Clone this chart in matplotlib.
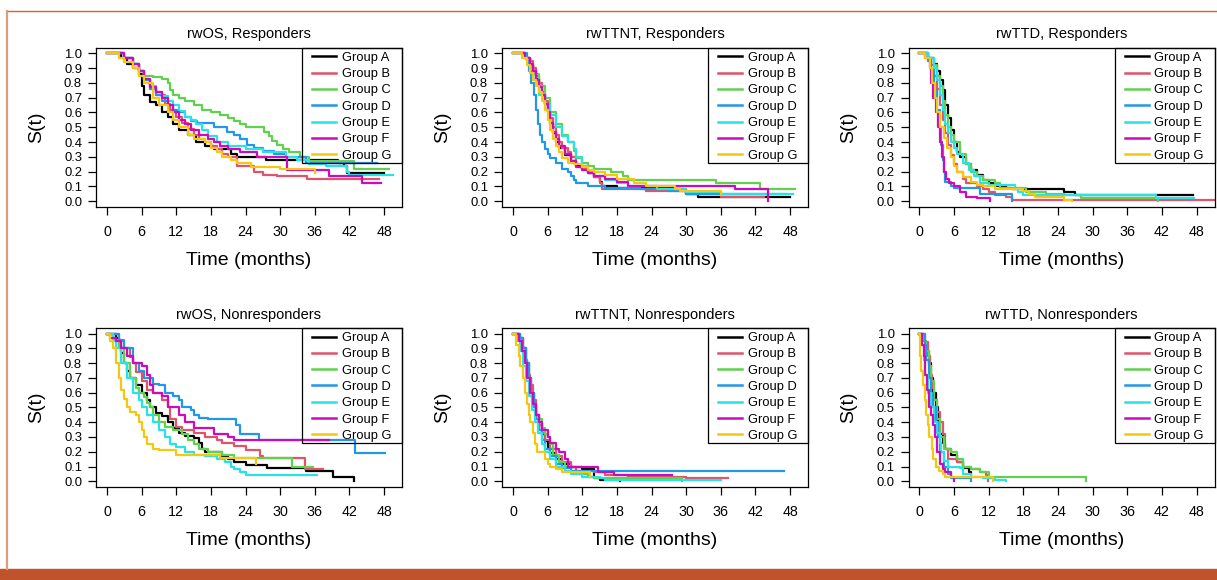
import matplotlib
matplotlib.use("Agg")
import matplotlib.pyplot as plt
from matplotlib.lines import Line2D

groups = ["Group A", "Group B", "Group C", "Group D", "Group E", "Group F", "Group G"]
colors = ["#000000", "#DF536B", "#61D04F", "#2297E6", "#28E2E5", "#CD0BBC", "#F5C710"]
x_ticks = [0, 6, 12, 18, 24, 30, 36, 42, 48]
y_ticks = [0.0, 0.1, 0.2, 0.3, 0.4, 0.5, 0.6, 0.7, 0.8, 0.9, 1.0]

# Kaplan-Meier steps per group: (time in months, S(t) from that time on)
os_resp = {
    "Group A": [(0, 1), (2.5, .97), (3.5, .93), (4.5, .9), (5.5, .86), (6, .78), (6.5, .72), (7.5, .67), (8.5, .65),
                (9.5, .6), (10.5, .57), (11.5, .52), (12.5, .48), (14, .45), (15.5, .4), (17, .37), (18.5, .35),
                (21.4, .32), (22.6, .3), (27.5, .28), (40, .26), (41, .24), (41.5, .19), (48, .19)],
    "Group B": [(0, 1), (3, .97), (4.5, .93), (5.5, .88), (6.5, .82), (7.5, .76), (8.5, .72), (10, .66), (11, .62),
                (12, .57), (13, .53), (14, .49), (15, .45), (16, .42), (17, .4), (18, .37), (19, .35), (20, .32),
                (21, .3), (22.6, .24), (25.5, .2), (27, .18), (29.5, .17), (34.7, .15), (47.1, .15)],
    "Group C": [(0, 1), (3, .97), (4.5, .93), (5.5, .88), (6.5, .85), (8, .84), (9.5, .83), (10.5, .8), (11, .75),
                (11.5, .72), (12.5, .7), (13.5, .68), (15, .65), (16.5, .62), (18, .6), (19.5, .58), (21, .56),
                (22, .54), (23, .52), (24, .5), (27.2, .47), (28, .44), (28.5, .41), (29.5, .38), (30.5, .35),
                (31.5, .33), (33.5, .3), (35, .27), (42.8, .22), (48.9, .22)],
    "Group D": [(0, 1), (3, .97), (4.5, .93), (5.5, .88), (6.5, .82), (7.5, .76), (8.5, .72), (9.5, .68), (10.5, .65),
                (11.5, .62), (12.5, .6), (13.5, .57), (14.5, .54), (15.6, .53), (18.5, .5), (20.8, .47), (22, .45),
                (23, .42), (24.3, .38), (25.5, .36), (27, .34), (29, .32), (31, .3), (34.4, .26), (46.8, .26)],
    "Group E": [(0, 1), (3, .97), (4.5, .93), (5.5, .88), (6.5, .83), (7.5, .78), (8.5, .74), (9.5, .71), (10.5, .68),
                (11.5, .65), (12.5, .61), (13.5, .57), (14.5, .55), (15.5, .52), (16.5, .48), (17.5, .44), (19, .4),
                (21, .37), (24, .35), (27, .33), (31, .3), (33, .28), (35, .25), (38, .24), (41.5, .2), (42, .18),
                (49.5, .18)],
    "Group F": [(0, 1), (3, .97), (4.5, .93), (5.5, .88), (6.5, .83), (7.5, .77), (8.5, .74), (9.5, .7), (10.5, .65),
                (11.5, .6), (12.5, .55), (13.5, .52), (14.5, .48), (16, .45), (17.5, .42), (18.5, .4), (19.5, .37),
                (21, .35), (23, .33), (26, .3), (31.2, .21), (38.5, .17), (44.2, .12), (47.5, .12)],
    "Group G": [(0, 1), (2, .97), (3, .94), (4.5, .9), (5.5, .85), (6.5, .8), (8, .7), (9, .65), (10.5, .6),
                (11.5, .55), (12.5, .5), (14, .45), (15, .42), (17, .4), (18, .36), (19, .33), (20, .3), (21.5, .28),
                (22.5, .26), (25, .23), (30, .22), (36, .19)],
}

ttnt_resp = {
    "Group A": [(0, 1), (2, .97), (3, .92), (3.5, .88), (4, .83), (4.5, .78), (5, .72), (5.5, .66), (6, .6), (6.5, .53),
                (7, .46), (7.5, .4), (8, .36), (9, .31), (10, .27), (11, .24), (12, .22), (13, .19), (14, .16),
                (15, .13), (15.5, .1), (18, .09), (28, .08), (30, .05), (32, .03), (48, .03)],
    "Group B": [(0, 1), (2, .97), (3, .95), (3.5, .9), (4, .85), (4.5, .8), (5, .74), (5.5, .68), (6, .62), (6.5, .56),
                (7, .5), (7.5, .45), (8, .4), (8.5, .36), (9.5, .33), (10, .3), (11, .25), (12, .22), (13, .19),
                (14, .16), (15, .12), (15.5, .08), (23, .07), (30, .05), (36, .03), (43.5, .03)],
    "Group C": [(0, 1), (2, .97), (3, .92), (3.5, .86), (4.5, .78), (5.5, .7), (6.5, .6), (7.5, .52), (8.5, .45),
                (9.5, .4), (10.5, .34), (11, .29), (12, .26), (13, .24), (14, .22), (17, .2), (19, .17), (20, .14),
                (35.2, .12), (42.7, .08), (48.9, .08)],
    "Group D": [(0, 1), (2.5, .95), (2.8, .88), (3.2, .8), (3.6, .72), (4, .62), (4.3, .52), (4.6, .45), (5, .4),
                (5.5, .35), (6, .32), (6.5, .29), (7.5, .26), (8.5, .22), (9.5, .2), (10, .17), (10.5, .14), (11, .12),
                (13, .1), (16, .09), (22, .08), (27, .07), (30, .05), (47.3, .05)],
    "Group E": [(0, 1), (2, .97), (3, .9), (3.5, .82), (4.5, .72), (5.5, .65), (6.5, .58), (7.5, .5), (8.5, .44),
                (9.5, .4), (10.5, .35), (11, .3), (12, .24), (13, .2), (14, .17), (16, .14), (18, .12), (20, .1),
                (25, .08), (30, .06), (36, .05), (48.5, .05)],
    "Group F": [(0, 1), (2, .97), (3, .93), (3.5, .88), (4, .82), (4.5, .77), (5, .72), (5.5, .66), (6, .6), (6.5, .53),
                (7, .47), (7.5, .42), (8, .37), (9, .32), (10, .27), (11, .23), (12, .21), (13, .19), (14, .17),
                (16, .15), (18, .13), (20, .1), (38.4, .08), (44.1, 0)],
    "Group G": [(0, 1), (1.5, .97), (2.5, .92), (3, .87), (3.5, .82), (4, .78), (4.5, .74), (5, .68), (5.5, .62),
                (6, .55), (6.5, .48), (7, .42), (7.5, .37), (8, .33), (8.5, .29), (9.5, .26), (10.5, .25), (12, .23),
                (13, .21), (14, .2), (16, .18), (18, .15), (21, .12), (23, .1), (28, .08), (29, .07), (36, .04)],
}

ttd_resp = {
    "Group A": [(0, 1), (1.5, .97), (2.5, .93), (3, .88), (3.5, .82), (4, .75), (4.5, .65), (5, .56), (5.5, .48),
                (6, .4), (6.5, .33), (7, .3), (8, .25), (9, .21), (10, .18), (11, .14), (12, .12), (13, .1), (15, .09),
                (16, .08), (25, .06), (27, .04), (47.3, .04)],
    "Group B": [(0, 1), (1.5, .97), (2, .92), (2.5, .85), (3, .76), (3.5, .65), (4, .55), (4.5, .46), (5, .38),
                (5.5, .31), (6, .25), (6.5, .2), (7.5, .15), (8, .12), (10, .1), (11, .08), (12, .06), (13, .04),
                (15, .03), (16, .01), (51.5, .01)],
    "Group C": [(0, 1), (1.5, .97), (2.5, .92), (3, .85), (3.5, .78), (4, .68), (4.5, .58), (5, .5), (5.5, .45),
                (6, .4), (7, .32), (8, .25), (9, .2), (10, .17), (11, .14), (13, .12), (14, .09), (18.5, .06), (22, .05),
                (25, .04), (28, .02), (41.4, 0)],
    "Group D": [(0, 1), (1.5, .95), (2, .88), (2.5, .75), (3, .62), (3.5, .5), (3.8, .38), (4, .28), (4.3, .2),
                (4.5, .13), (5.5, .1), (6, .09), (10.5, .05), (16.1, 0)],
    "Group E": [(0, 1), (1.5, .97), (2.5, .9), (3, .82), (3.5, .72), (4, .62), (4.5, .52), (5, .46), (5.5, .4),
                (6, .36), (6.5, .32), (7.5, .26), (8.5, .21), (9.5, .17), (10.5, .12), (12, .11), (16.5, .08),
                (17, .06), (18, .04), (41, .02), (47.5, .02)],
    "Group F": [(0, 1), (1, .97), (1.8, .9), (2, .8), (2.3, .7), (2.8, .6), (3.2, .5), (3.6, .4), (3.9, .3),
                (4.2, .2), (4.6, .15), (5.2, .12), (6, .1), (7, .06), (8, .03), (10, .02), (12.2, 0)],
    "Group G": [(0, 1), (1, .97), (1.8, .9), (2.2, .8), (2.7, .7), (3.1, .6), (3.6, .5), (4.2, .43), (4.8, .36),
                (5.4, .3), (6, .24), (6.5, .2), (7.5, .16), (9, .13), (10, .11), (11, .1), (13, .08), (18, .07),
                (19, .05), (20, .03), (25, .01), (26.5, 0)],
}

os_nonresp = {
    "Group A": [(0, 1), (1.5, .97), (2, .92), (2.5, .87), (3, .8), (3.5, .75), (4, .7), (5, .65), (6, .6), (7, .55),
                (7.5, .5), (8.5, .46), (9.5, .44), (10.5, .4), (11.5, .36), (12.5, .33), (13.5, .31), (15, .29),
                (16, .26), (16.5, .22), (17, .2), (20, .17), (21, .15), (22, .13), (24, .11), (27.8, .09), (34.5, .07),
                (39.2, .03), (42.7, 0)],
    "Group B": [(0, 1), (2, .96), (3, .9), (4, .84), (4.5, .8), (5, .74), (6, .68), (7, .62), (8, .6), (9.5, .55),
                (10.5, .5), (11, .42), (12, .37), (13, .35), (15, .33), (17, .3), (19, .28), (20, .26), (22, .24),
                (24, .21), (26.5, .17), (27, .16), (34.3, .08), (37.5, .08)],
    "Group C": [(0, 1), (1, .96), (2, .9), (3, .8), (4, .7), (5, .63), (5.5, .6), (6.5, .57), (7, .53), (7.5, .5),
                (8, .45), (9, .4), (10, .37), (11.5, .35), (13, .32), (14, .28), (15, .25), (16, .22), (17.5, .2),
                (20, .18), (22, .16), (32.1, .1), (35.6, .1)],
    "Group D": [(0, 1), (2, .95), (3, .9), (4.5, .8), (5.5, .75), (6.5, .7), (8, .66), (9, .65), (10, .6), (11.5, .58),
                (12.5, .55), (13, .5), (14.5, .48), (15, .45), (16, .43), (17.5, .42), (22.3, .38), (23, .32),
                (26.3, .28), (42.9, .19), (48.1, .19)],
    "Group E": [(0, 1), (1, .95), (1.5, .9), (2.5, .8), (3.5, .7), (4.5, .6), (5.5, .55), (6, .5), (7, .45), (8, .4),
                (9, .35), (10, .3), (11, .25), (12, .23), (13.5, .2), (15, .18), (17, .17), (19, .15), (20.5, .13),
                (21.5, .1), (22, .08), (23, .06), (24, .04), (36.3, .04)],
    "Group F": [(0, 1), (0.5, .97), (1.5, .95), (2.5, .9), (3.5, .85), (4.5, .8), (6, .78), (7, .72), (7.5, .65),
                (8, .6), (9.5, .58), (10.5, .5), (12.5, .45), (13.5, .4), (15, .36), (18.5, .32), (21, .3), (22, .28),
                (38.5, .28)],
    "Group G": [(0, 1), (0.5, .95), (1, .9), (1.5, .8), (2, .7), (2.5, .62), (3, .56), (3.5, .5), (4, .47), (5, .45),
                (5.5, .4), (6, .35), (6.5, .3), (7, .25), (8, .22), (9, .21), (12, .18), (19.5, .16), (25.8, .12)],
}

ttnt_nonresp = {
    "Group A": [(0, 1), (1.2, .97), (1.8, .9), (2.3, .8), (2.8, .7), (3.2, .6), (3.6, .52), (4, .45), (4.5, .38),
                (5, .32), (5.5, .27), (6, .23), (6.5, .19), (7.5, .15), (8.5, .12), (10, .1), (12, .08), (14, .02),
                (15, .01), (18.5, 0)],
    "Group B": [(0, 1), (1, .97), (1.5, .9), (2, .82), (2.5, .72), (3, .65), (3.5, .55), (4, .45), (4.5, .38),
                (5, .33), (5.5, .28), (6.5, .22), (7.5, .17), (8.5, .13), (10, .1), (11, .07), (14, .06), (16, .04),
                (20, .03), (30, .02), (37.3, .02)],
    "Group C": [(0, 1), (1, .96), (1.5, .9), (2, .8), (2.5, .7), (3, .6), (3.5, .5), (4, .42), (5, .36), (5.5, .32),
                (6, .3), (6.5, .25), (7, .18), (8, .13), (9, .1), (10, .07), (12, .05), (13, .03), (14, .02), (29.3, 0)],
    "Group D": [(0, 1), (1.2, .97), (1.8, .9), (2.3, .8), (2.8, .7), (3.2, .6), (3.6, .5), (4, .42), (4.5, .35),
                (5, .28), (5.5, .22), (6.5, .17), (7.5, .12), (8.5, .09), (10, .07), (47, .07)],
    "Group E": [(0, 1), (0.8, .95), (1.3, .88), (1.8, .78), (2.3, .68), (2.8, .58), (3.3, .48), (3.8, .4), (4.3, .33),
                (5, .25), (5.5, .2), (6.5, .15), (7.5, .1), (9, .07), (10, .05), (12, .03), (15, .02), (16, .01),
                (36.1, .01)],
    "Group F": [(0, 1), (1, .95), (1.5, .88), (2, .8), (2.5, .7), (3, .6), (3.5, .52), (4, .45), (4.5, .4), (5, .35),
                (6, .3), (6.5, .26), (7.5, .22), (8, .2), (9, .15), (9.5, .1), (14.8, .06), (17.5, .04), (27.6, .04)],
    "Group G": [(0, 1), (0.5, .92), (1, .85), (1.3, .78), (1.7, .7), (2.1, .6), (2.5, .52), (2.8, .45), (3, .4),
                (3.4, .33), (3.8, .25), (4.2, .2), (5.5, .15), (6, .12), (6.5, .1), (7.5, .08), (8.5, .06),
                (13.4, .03)],
}

ttd_nonresp = {
    "Group A": [(0, 1), (0.8, .95), (1.2, .88), (1.6, .8), (2, .7), (2.4, .6), (2.8, .5), (3.2, .4), (3.6, .32),
                (4, .26), (4.5, .22), (5.5, .18), (6.5, .13), (7.5, .09), (8.5, .06), (9, .05)],
    "Group B": [(0, 1), (1, .94), (1.4, .85), (1.8, .72), (2.2, .63), (2.6, .55), (3, .47), (3.5, .4), (4, .32),
                (4.4, .22), (5, .15), (6.5, .13), (7.5, .1), (9, .08), (10.5, .06), (11.5, .04), (11.8, 0)],
    "Group C": [(0, 1), (0.8, .95), (1.2, .88), (1.6, .78), (2, .68), (2.5, .55), (3, .42), (3.5, .3), (4.2, .22),
                (5.5, .2), (6.5, .15), (7.5, .1), (9, .08), (10.5, .06), (12, .03), (28.8, 0)],
    "Group D": [(0, 1), (0.9, .92), (1.2, .82), (1.6, .7), (2, .6), (2.4, .5), (2.8, .4), (3.2, .3), (3.6, .2),
                (4.2, .1), (5, .05), (5.5, .02), (9, 0)],
    "Group E": [(0, 1), (0.3, .92), (0.7, .82), (1, .72), (1.5, .6), (2, .5), (2.5, .4), (3, .33), (3.5, .26),
                (3.8, .2), (4.2, .14), (5, .1), (7, .09), (7.5, .05), (9, .03), (11, .02), (13, .01), (15, 0)],
    "Group F": [(0, 1), (0.4, .92), (0.7, .85), (1, .72), (1.3, .62), (1.7, .5), (2, .45), (2.3, .38), (2.7, .3),
                (3, .2), (3.5, .12), (4, .08), (4.5, .06), (5.5, .03), (5.9, 0)],
    "Group G": [(0, 1), (0.15, .85), (0.35, .75), (0.6, .65), (0.9, .55), (1.2, .45), (1.4, .38), (1.7, .3),
                (2.1, .22), (2.4, .15), (2.8, .1), (3.3, .07), (4, .05), (4.5, .03), (12.7, 0)],
}

panels = [
    ("rwOS, Responders", os_resp),
    ("rwTTNT, Responders", ttnt_resp),
    ("rwTTD, Responders", ttd_resp),
    ("rwOS, Nonresponders", os_nonresp),
    ("rwTTNT, Nonresponders", ttnt_nonresp),
    ("rwTTD, Nonresponders", ttd_nonresp),
]

plt.rcParams["font.family"] = ["Liberation Sans", "DejaVu Sans"]

W, H = 1217, 580
fig = plt.figure(figsize=(W / 100, H / 100), dpi=100)

# orange frame around the figure
fig.add_artist(Line2D([7 / W, 1], [1 - 10.5 / H, 1 - 10.5 / H], color="#D8602F", lw=1.0))
fig.add_artist(Line2D([7 / W, 7 / W], [1 - 10.5 / H, 1 - 569 / H], color="#DF9C7C", lw=1.6))
fig.add_artist(plt.Rectangle((0, 0), 1, 11.5 / H, color="#C0532B", transform=fig.transFigure))

lefts = [96, 502, 908.5]
tops = [47.5, 327.7]
aw, ah = 306, 159.5

for i, (title, curves) in enumerate(panels):
    left = lefts[i % 3]
    top = tops[i // 3]
    ax = fig.add_axes([left / W, 1 - (top + ah) / H, aw / W, ah / H])
    for name, col in zip(groups, colors):
        t = [p[0] for p in curves[name]]
        s = [p[1] for p in curves[name]]
        ax.step(t, s, where="post", color=col, lw=1.6)
    ax.set_xlim(-1.9, 51.1)
    ax.set_ylim(-0.04, 1.04)
    ax.set_xticks(x_ticks)
    ax.set_yticks(y_ticks)
    ax.set_yticklabels([f"{v:.1f}" for v in y_ticks])
    ax.tick_params(axis="both", direction="out", length=5.5, width=0.9, color="black")
    ax.tick_params(axis="x", labelsize=10.3, pad=7.5)
    ax.tick_params(axis="y", labelsize=9.4, pad=4.5)
    for sp in ax.spines.values():
        sp.set_linewidth(0.9)
    ax.set_title(title, fontsize=10.5, pad=6.5)
    ax.annotate("Time (months)", xy=(0.5, 0), xycoords="axes fraction", xytext=(0, -38.5),
                textcoords="offset points", ha="center", va="center", fontsize=14)
    ax.annotate("S(t)", xy=(0, 0.5), xycoords="axes fraction", xytext=(-43, 0),
                textcoords="offset points", ha="center", va="center", fontsize=14, rotation=90)

    # R-style legend: transparent box in the top-right corner
    tr = ax.transAxes
    ax.add_patch(plt.Rectangle((206 / aw, 1 - 115.5 / ah), 100 / aw, 115.5 / ah, transform=tr,
                               fill=False, edgecolor="black", lw=0.9, zorder=5, clip_on=False))
    for k, (name, col) in enumerate(zip(groups, colors)):
        yk = 1 - (8.8 + k * 16.3) / ah
        ax.add_line(Line2D([216 / aw, 240 / aw], [yk, yk], transform=tr, color=col, lw=1.8,
                           zorder=6, clip_on=False))
        ax.text(246 / aw, yk, name, transform=tr, fontsize=9.3, va="center_baseline", ha="left", zorder=6)

fig.savefig("out.png", dpi=100)
